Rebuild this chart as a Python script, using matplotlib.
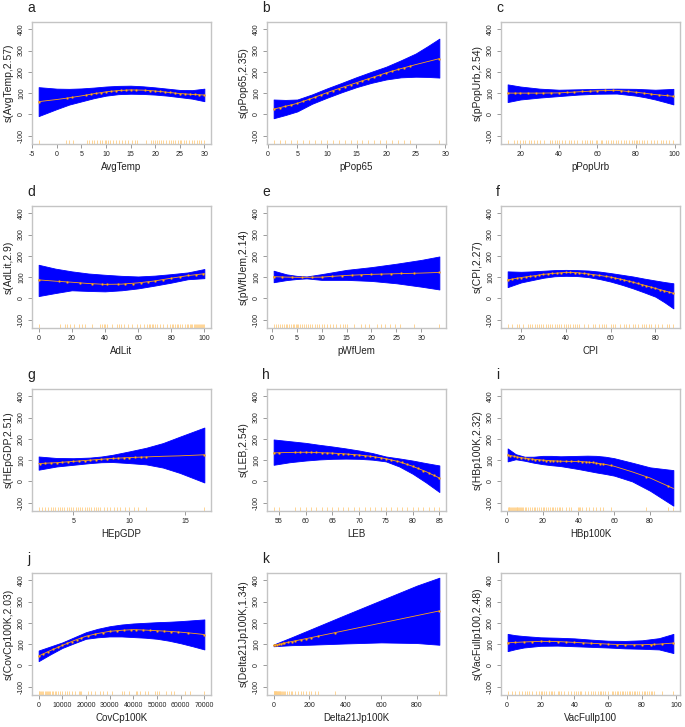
import numpy as np
import matplotlib
matplotlib.use("Agg")
import matplotlib.pyplot as plt

plt.rcParams['font.family'] = ['Liberation Sans', 'DejaVu Sans']

# ---------------- data ----------------
letters = ['a', 'b', 'c', 'd', 'e', 'f', 'g', 'h', 'i', 'j', 'k', 'l']
xlabels = ['AvgTemp', 'pPop65', 'pPopUrb', 'AdLit', 'pWfUem', 'CPI',
           'HEpGDP', 'LEB', 'HBp100K', 'CovCp100K', 'Delta21Jp100K', 'VacFullp100']
ylabels = ['s(AvgTemp,2.57)', 's(pPop65,2.35)', 's(pPopUrb,2.54)', 's(AdLit,2.9)',
           's(pWfUem,2.14)', 's(CPI,2.27)', 's(HEpGDP,2.51)', 's(LEB,2.54)',
           's(HBp100K,2.32)', 's(CovCp100K,2.03)', 's(Delta21Jp100K,1.34)', 's(VacFullp100,2.48)']
xticks = [
    [-5, 0, 5, 10, 15, 20, 25, 30],
    [0, 5, 10, 15, 20, 25, 30],
    [20, 40, 60, 80, 100],
    [0, 20, 40, 60, 80, 100],
    [0, 5, 10, 15, 20, 25, 30],
    [20, 40, 60, 80],
    [5, 10, 15],
    [55, 60, 65, 70, 75, 80, 85],
    [0, 20, 40, 60, 80],
    [0, 10000, 20000, 30000, 40000, 50000, 60000, 70000],
    [0, 200, 400, 600, 800],
    [0, 20, 40, 60, 80, 100],
]
yticks = [-100, 0, 100, 200, 300, 400]

# smooth fit, lower and upper band
a_x = [-3.7, 0, 2.5, 5, 7.5, 10, 12.5, 15, 17.5, 20, 22.5, 25, 27.5, 30]
a_fit = [60, 70, 78, 87, 97, 106, 112, 115, 114, 110, 104, 98, 94, 91]
a_hi = [128, 121, 120, 122, 126, 131, 134, 135, 132, 127, 121, 115, 114, 121]
a_lo = [-8, 25, 46, 61, 76, 88, 95, 97, 96, 93, 88, 81, 74, 62]

b_x = [1, 3, 5, 7.5, 10, 12.5, 15, 17.5, 20, 22.5, 25, 27, 29]
b_fit = [25, 38, 52, 76, 102, 126, 149, 172, 195, 215, 234, 248, 262]
b_hi = [70, 68, 70, 94, 122, 148, 175, 200, 224, 254, 286, 320, 356]
b_lo = [-18, -3, 14, 50, 78, 104, 128, 148, 164, 174, 177, 176, 173]

c_x = [13.4, 20, 30, 40, 50, 60, 70, 80, 85, 90, 95, 99.4]
c_fit = [100, 100, 100, 101, 106, 111, 113, 104, 99, 93, 89, 85]
c_hi = [141, 131, 121, 116, 118, 120, 121, 120, 118, 116, 118, 120]
c_lo = [58, 70, 79, 86, 93, 97, 98, 88, 80, 70, 58, 47]

d_x = [0, 10, 20, 30, 40, 50, 60, 70, 80, 90, 100]
d_fit = [87, 81, 76, 70, 66, 67, 73, 82, 95, 107, 116]
d_hi = [158, 140, 127, 117, 111, 106, 103, 107, 114, 122, 138]
d_lo = [11, 25, 38, 35, 33, 38, 47, 60, 74, 90, 95]

e_x = [0.4, 3, 5, 7, 10, 15, 20, 25, 30, 33.6]
e_fit = [102, 100, 99, 99, 100, 108, 113, 116, 119, 122]
e_hi = [130, 113, 106, 103, 114, 134, 147, 163, 181, 197]
e_lo = [76, 86, 91, 94, 87, 87, 82, 71, 55, 42]

f_x = [14, 20, 25, 30, 35, 40, 45, 50, 55, 60, 65, 70, 75, 80, 84, 88]
f_fit = [87, 98, 105, 113, 118, 122, 121, 115, 108, 100, 89, 76, 62, 47, 36, 24]
f_hi = [127, 125, 127, 130, 133, 134, 133, 131, 126, 119, 111, 103, 93, 84, 77, 71]
f_lo = [53, 75, 86, 97, 104, 106, 105, 100, 91, 79, 64, 47, 28, 8, -18, -47]

g_x = [1.9, 3.5, 5, 6.5, 7.5, 8.5, 10, 11.5, 13, 14.5, 16.7]
g_fit = [84, 88, 94, 100, 104, 108, 112, 115, 118, 120, 125]
g_hi = [117, 110, 109, 112, 117, 125, 141, 158, 180, 210, 253]
g_lo = [55, 70, 78, 86, 90, 91, 86, 80, 65, 40, -5]

h_x = [54, 57, 60, 62.5, 65, 67.5, 70, 72.5, 75, 77.5, 80, 82.5, 85]
h_fit = [134, 136, 137, 135, 133, 129, 124, 117, 107, 92, 71, 46, 16]
h_hi = [197, 189, 181, 172, 164, 155, 145, 133, 117, 108, 98, 86, 75]
h_lo = [78, 90, 98, 103, 106, 107, 106, 102, 94, 70, 36, -5, -50]

i_x = [0.5, 5, 10, 15, 20, 25, 30, 35, 40, 45, 50, 55, 60, 70, 80, 93]
i_fit = [125, 116, 109, 104, 100, 97, 95, 94, 94, 91, 86, 80, 71, 45, 16, -33]
i_hi = [155, 128, 116, 116, 120, 120, 118, 119, 120, 121, 120, 116, 109, 88, 66, 53]
i_lo = [94, 104, 97, 88, 81, 76, 72, 65, 58, 50, 42, 35, 27, 0, -44, -114]

j_x = [0, 5000, 10000, 15000, 20000, 25000, 30000, 35000, 40000, 45000, 50000, 55000, 60000, 65000, 70000]
j_fit = [44, 70, 94, 117, 137, 150, 160, 165, 168, 166, 163, 160, 156, 151, 145]
j_hi = [70, 89, 108, 132, 156, 172, 184, 192, 197, 200, 203, 205, 208, 212, 216]
j_lo = [20, 52, 82, 104, 125, 132, 136, 136, 133, 130, 125, 116, 104, 90, 75]

k_x = [0, 100, 200, 400, 600, 800, 925]
k_fit = [94, 112, 129, 164, 199, 234, 256]
k_hi = [98, 132, 167, 237, 306, 375, 412]
k_lo = [90, 95, 97, 103, 108, 105, 97]

l_x = [0.5, 5, 10, 20, 30, 40, 50, 60, 70, 80, 90, 98.5]
l_fit = [106, 108, 110, 113, 112, 108, 104, 100, 97, 97, 100, 105]
l_hi = [148, 142, 138, 132, 130, 127, 121, 116, 115, 118, 128, 148]
l_lo = [67, 76, 84, 92, 93, 90, 87, 84, 80, 78, 75, 58]

# fitted values at observations (dots)
a_dx = [-3.7, 2, 3, 6, 7, 8, 9, 10, 11, 12, 13, 14, 15, 16, 18, 19, 20, 21, 22, 23, 24, 25, 26, 27, 28, 29, 30]
a_dy = [60, 77, 80, 91, 95, 99, 102, 106, 109, 111, 113, 114, 115, 115, 113, 111, 110, 108, 105, 103, 100, 98, 96, 95, 94, 92, 91]
b_dx = [1, 2, 3, 4, 5, 6, 7, 8, 9, 10, 11, 12, 13, 14, 15, 16, 17, 18, 19, 20, 21, 22, 23, 24, 29]
b_dy = [25, 31, 38, 45, 52, 62, 72, 82, 92, 102, 111, 121, 130, 140, 149, 158, 168, 177, 186, 195, 203, 211, 219, 226, 262]
c_dx = [13.6, 17, 20, 24, 28, 32, 36, 40, 44, 48, 52, 56, 60, 64, 68, 72, 76, 80, 84, 88, 92, 96, 99.4]
c_dy = [100, 100, 100, 100, 100, 100, 101, 102, 104, 107, 109, 111, 112, 113, 113, 111, 108, 104, 100, 96, 92, 89, 85]
d_dx = [0, 12, 17, 25, 32, 38, 41, 48, 52, 57, 62, 66, 70, 75, 80, 85, 90, 95, 99]
d_dy = [87, 80, 77, 72, 68, 66, 66, 66, 67, 70, 73, 78, 82, 88, 95, 102, 108, 112, 116]
e_dx = [0.5, 2, 4, 6, 8, 10, 12, 14, 16, 18, 20, 22, 24, 26, 28.5, 33.6]
e_dy = [102, 100, 99, 99, 99, 100, 103, 106, 109, 111, 113, 115, 116, 117, 119, 122]
f_dx = [14, 16, 18, 20, 22, 24, 26, 28, 30, 32, 34, 36, 38, 40, 42, 44, 46, 48, 50, 52, 55, 58, 60, 62, 64, 66, 68, 70, 72, 74, 76, 78, 80, 82, 84, 86, 88]
f_dy = [87, 91, 94, 98, 102, 104, 107, 110, 113, 116, 118, 120, 121, 122, 122, 121, 119, 117, 115, 112, 108, 103, 100, 96, 92, 87, 82, 76, 71, 65, 59, 53, 47, 41, 36, 30, 24]
g_dx = [2, 2.5, 3, 3.5, 4, 4.5, 5, 5.5, 6, 6.5, 7, 7.5, 8, 8.5, 9, 9.5, 10, 10.5, 11, 11.5, 16.7]
g_dy = [84, 85, 87, 88, 90, 92, 94, 96, 98, 100, 102, 104, 106, 108, 110, 111, 112, 113, 114, 115, 125]
h_dx = [54, 55, 58, 59, 60, 61, 62, 63, 64, 65, 66, 67, 68, 69, 70, 71, 72, 73, 74, 75, 76, 77, 78, 79, 80, 81, 82, 83, 84, 85]
h_dy = [134, 135, 137, 137, 137, 137, 136, 135, 134, 133, 131, 129, 128, 126, 124, 121, 118, 115, 112, 107, 102, 96, 89, 81, 71, 61, 51, 40, 28, 16]
i_dx = [0.5, 2, 4, 6, 8, 10, 12, 14, 16, 18, 20, 22, 24, 26, 28, 30, 33, 36, 40, 42, 44, 46, 48, 50, 52, 54, 58, 78, 90]
i_dy = [124, 121, 118, 114, 111, 109, 106, 104, 102, 101, 100, 98, 97, 96, 95, 95, 94, 94, 94, 92, 91, 90, 89, 86, 84, 82, 76, 22, -20]
j_dx = [0, 2000, 4000, 6000, 8000, 10000, 12000, 14000, 16000, 18000, 21000, 24000, 27000, 30000, 33000, 36000, 39000, 41000, 44000, 47000, 50000, 53000, 56000, 59000, 63000, 70000]
j_dy = [44, 54, 64, 75, 85, 94, 103, 112, 121, 129, 140, 147, 154, 160, 163, 165, 167, 168, 167, 165, 163, 161, 158, 157, 152, 145]
k_dx = [0, 10, 20, 30, 40, 50, 60, 80, 100, 120, 150, 180, 210, 250, 340, 925]
k_dy = [94, 96, 98, 99, 101, 103, 105, 108, 112, 115, 120, 126, 131, 138, 153, 256]
l_dx = [1, 5, 10, 15, 20, 25, 30, 35, 40, 45, 50, 55, 60, 65, 70, 75, 80, 85, 87, 92, 98]
l_dy = [106, 108, 110, 112, 113, 113, 112, 110, 108, 106, 104, 102, 100, 98, 97, 97, 97, 98, 99, 101, 104]

# rug (observed x values)
a_rug = [-3.7, 1.9, 2.4, 3.2, 6.2, 6.6, 7.1, 7.6, 8.2, 8.7, 9.2, 9.7, 10.0, 10.4, 10.8, 11.5, 12.1, 12.7,
         13.2, 13.8, 14.5, 15.2, 15.8, 16.3, 18.1, 19.2, 19.6, 20.0, 20.4, 20.8, 21.2, 21.6, 22.2, 22.8,
         23.2, 23.6, 24.1, 24.6, 25.0, 25.3, 25.8, 26.3, 26.8, 27.4, 27.9, 28.4, 28.9, 29.4, 30.0]
b_rug = [1, 2, 3, 4, 5, 6, 7, 8, 9, 10, 11, 12, 13, 14, 15, 16, 17, 18, 19, 20, 21, 22, 23, 24, 29]
c_rug = [13.4, 16.5, 18.3, 19.7, 21.4, 22.6, 24.3, 25.7, 26.9, 28.7, 30.4, 32.1, 35.3, 36.5, 37.9, 39.1,
         39.9, 41.7, 43.1, 45.1, 46.5, 47.7, 49.5, 52.1, 53.4, 54.7, 56.0, 57.3, 59.0, 59.9, 61.6, 62.5,
         64.2, 65.6, 66.8, 68.0, 69.4, 70.8, 72.0, 73.7, 74.9, 76.3, 77.7, 78.9, 79.8, 80.7, 81.5, 82.9,
         84.1, 85.9, 87.6, 89.3, 91.1, 92.8, 94.0, 95.4, 97.1, 99.4]
d_rug = [0, 12.7, 16.1, 17.1, 19.1, 21.5, 24.5, 26.1, 28.1, 32.1, 37.1, 38.2, 39.2, 40.2, 41.2, 44.2,
         47.2, 48.2, 49.6, 51.6, 54.2, 56.2, 59.2, 61.2, 63.3, 65.3, 66.3, 67.3, 68.3, 69.3, 70.3, 71.3,
         73.3, 75.3, 77.3, 79.3, 80.3, 81.3, 82.3, 83.3, 84.3, 85.3, 86.3, 88.4, 89.4, 90.4, 91.4, 92.0,
         92.8, 93.6, 94.4, 95.0, 95.6, 96.2, 96.8, 97.4, 98.0, 98.6, 99.2, 100]
e_rug = [0.4, 0.9, 1.3, 1.7, 2.0, 2.4, 2.8, 3.1, 3.5, 3.8, 4.2, 4.5, 4.8, 5.0, 5.3, 5.6, 6.0, 6.4, 6.8,
         7.2, 7.7, 8.1, 8.6, 9.0, 9.5, 10.0, 10.5, 11.0, 11.6, 12.2, 12.9, 13.6, 14.3, 14.6, 15.0, 16.5,
         18.0, 18.8, 19.6, 21.2, 22.0, 22.8, 23.8, 24.8, 25.7, 28.5, 33.6]
f_rug = [14, 16, 18, 19, 21, 23, 24, 25, 26, 27, 28, 29, 30, 31, 32, 33, 34, 35, 36, 37, 38, 39, 40, 41,
         42, 43, 44, 45, 46, 48, 50, 52, 53, 55, 56, 57, 58, 60, 61, 62, 64, 66, 67, 68, 70, 71, 72, 74,
         75, 76, 77, 78, 80, 81, 83, 85, 86, 88]
g_rug = [1.9, 2.2, 2.5, 2.7, 3.0, 3.2, 3.4, 3.6, 3.8, 4.0, 4.2, 4.4, 4.6, 4.8, 5.0, 5.2, 5.4, 5.6, 5.8,
         6.0, 6.2, 6.4, 6.6, 6.8, 7.0, 7.2, 7.4, 7.7, 8.0, 8.3, 8.6, 8.9, 9.2, 9.6, 10.0, 10.4, 10.8,
         11.5, 16.7]
h_rug = [54, 55, 58, 59, 60, 61, 62, 63, 64, 65, 66, 67, 68, 69, 70, 71, 72, 73, 74, 75, 76, 77, 78,
         79, 80, 81, 82, 83, 84, 85]
i_rug = [0.5, 1, 1.5, 2, 2.5, 3, 3.5, 4, 4.5, 5, 5.5, 6, 6.5, 7, 7.5, 8, 8.5, 9, 10, 11, 12, 13, 14, 15,
         16, 17, 18, 19, 20, 21, 22, 23, 24, 25, 26, 27, 28, 29, 30, 31, 33, 35, 36, 40, 40.5, 41, 42,
         44, 46, 48, 50, 52, 54, 58, 78, 90, 93]
j_rug = [0, 200, 500, 1000, 1500, 2000, 2500, 3000, 3500, 4000, 4500, 5000, 5500, 6000, 7000, 7500,
         8000, 9000, 10000, 11000, 12000, 13000, 14000, 15500, 17000, 17500, 18000, 21000, 22000, 24000,
         26000, 27000, 29000, 31000, 35000, 36000, 38000, 41000, 41500, 43000, 45000, 46000, 49000,
         50000, 51000, 54000, 56000, 57000, 62000, 64000, 70000]
k_rug = [0, 2, 4, 6, 8, 10, 12, 14, 16, 18, 20, 22, 25, 28, 31, 34, 37, 40, 45, 50, 58, 65, 75, 85, 95,
         105, 120, 135, 150, 165, 180, 195, 210, 230, 250, 340, 925]
l_rug = [0.5, 3, 5, 7, 9, 11, 12, 13, 15, 17, 19, 20, 21, 22, 23, 25, 26, 27, 28, 30, 31, 32, 34, 36, 38,
         40, 41, 42, 43, 44, 46, 48, 50, 51, 52, 54, 55, 56, 57, 58, 60, 62, 63, 64, 65, 66, 67, 68, 69,
         70, 71, 72, 73, 74, 75, 76, 77, 78, 80, 81, 82, 83, 84, 85, 86, 87, 92, 98.5]

curves = [
    (a_x, a_fit, a_lo, a_hi, a_dx, a_dy, a_rug),
    (b_x, b_fit, b_lo, b_hi, b_dx, b_dy, b_rug),
    (c_x, c_fit, c_lo, c_hi, c_dx, c_dy, c_rug),
    (d_x, d_fit, d_lo, d_hi, d_dx, d_dy, d_rug),
    (e_x, e_fit, e_lo, e_hi, e_dx, e_dy, e_rug),
    (f_x, f_fit, f_lo, f_hi, f_dx, f_dy, f_rug),
    (g_x, g_fit, g_lo, g_hi, g_dx, g_dy, g_rug),
    (h_x, h_fit, h_lo, h_hi, h_dx, h_dy, h_rug),
    (i_x, i_fit, i_lo, i_hi, i_dx, i_dy, i_rug),
    (j_x, j_fit, j_lo, j_hi, j_dx, j_dy, j_rug),
    (k_x, k_fit, k_lo, k_hi, k_dx, k_dy, k_rug),
    (l_x, l_fit, l_lo, l_hi, l_dx, l_dy, l_rug),
]

# ---------------- layout ----------------
W, H = 685, 727
fig = plt.figure(figsize=(W / 100, H / 100), dpi=100)
col_left = [32, 267, 501]
row_top = [22, 206, 389, 573]
aw, ah = 179, 122

frame_col = '#c4c4c4'
band_col = '#0000ff'
line_col = '#ffa31a'
rug_col = '#ffcf85'

for idx, (cx, cfit, clo, chi, dx, dy, rug) in enumerate(curves):
    r, c = divmod(idx, 3)
    L = col_left[c]
    T = row_top[r]
    ax = fig.add_axes([L / W, 1 - (T + ah) / H, aw / W, ah / H])
    ax.fill_between(cx, clo, chi, color=band_col, linewidth=0.6, edgecolor=band_col, zorder=1)
    ax.plot(cx, cfit, color=line_col, lw=0.6, zorder=2)
    ax.plot(dx, dy, linestyle='none', marker='o', ms=1.4, mfc='#ffa726', mec='#e08a00', mew=0.25, zorder=3)
    ax.vlines(rug, 0, 0.035, transform=ax.get_xaxis_transform(), color=rug_col, lw=0.6, zorder=2)

    xmin, xmax = min(rug), max(rug)
    pad = 0.04 * (xmax - xmin)
    ax.set_xlim(xmin - pad, xmax + pad)
    ax.set_ylim(-139, 434)
    ax.set_xticks(xticks[idx])
    ax.set_xticklabels([str(t) for t in xticks[idx]])
    ax.set_yticks(yticks)
    ax.set_yticklabels([str(t) for t in yticks], rotation=90, va='center')
    ax.tick_params(axis='both', length=3, width=0.6, color='#8a8a8a', labelsize=5,
                   labelcolor='#222222', pad=2)
    for s in ax.spines.values():
        s.set_color(frame_col)
        s.set_linewidth(1.0)
    ax.set_xlabel(xlabels[idx], fontsize=7, labelpad=3, color='#222222')
    ax.set_ylabel(ylabels[idx], fontsize=7.5, labelpad=3, color='#222222')
    fig.text((L - 5) / W, 1 - (T - 10) / H, letters[idx], fontsize=10, ha='left', va='baseline',
             color='#222222')

fig.savefig('out.png', dpi=100)
